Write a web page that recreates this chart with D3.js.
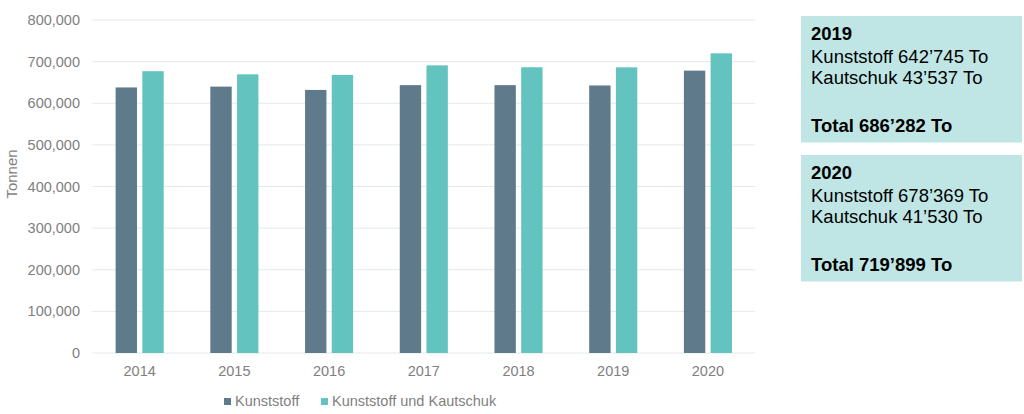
<!DOCTYPE html>
<html>
<head>
    <meta charset="utf-8" />
    <title>Kunststoff und Kautschuk</title>
    <style>
        body { margin: 0; background: #fff; }
        svg text { font-family: "Liberation Sans", Arial, sans-serif; }
    </style>
</head>
<body>
    <svg id="chart" width="1024" height="414"></svg>
    <script src="https://cdn.jsdelivr.net/npm/d3@7/dist/d3.min.js"></script>
    <script>
        // data
        var years = ["2014", "2015", "2016", "2017", "2018", "2019", "2020"];
        var series = ["Kunststoff", "Kunststoff und Kautschuk"];
        var kunststoff = [638000, 640000, 632000, 643500, 643500, 642745, 678369];
        var kunststoffKautschuk = [677000, 669500, 668000, 691000, 686500, 686282, 719899];
        var yTicks = [0, 100000, 200000, 300000, 400000, 500000, 600000, 700000, 800000];
        var colors = ["#5f7b8b", "#63c3be"];

        var infoBoxes = [
            { year: "2019", lines: ["Kunststoff 642\u2019745 To", "Kautschuk 43\u2019537 To"], total: "Total 686\u2019282 To" },
            { year: "2020", lines: ["Kunststoff 678\u2019369 To", "Kautschuk 41\u2019530 To"], total: "Total 719\u2019899 To" }
        ];

        var svg = d3.select("#chart");

        // plot area (note: "top" is reserved on window, so use other names)
        var plotLeft = 92.3, plotRight = 755.3, plotTop = 20, plotBottom = 353;

        var x0 = d3.scaleBand().domain(years).range([plotLeft, plotRight]).paddingInner(0);
        var x1 = d3.scaleBand().domain(series).range([0, x0.bandwidth()])
            .paddingInner(0.2).paddingOuter(0.873);
        var y = d3.scaleLinear().domain([0, 800000]).range([plotBottom, plotTop]);

        // gridlines
        svg.append("g")
            .selectAll("line")
            .data(yTicks)
            .enter()
            .append("line")
            .attr("x1", plotLeft)
            .attr("x2", plotRight)
            .attr("y1", function(d) { return y(d); })
            .attr("y2", function(d) { return y(d); })
            .attr("stroke", "#e4e9e9")
            .attr("stroke-width", 1);

        // y axis labels
        var fmt = d3.format(",");
        svg.append("g")
            .selectAll("text")
            .data(yTicks)
            .enter()
            .append("text")
            .attr("x", 80)
            .attr("y", function(d) { return y(d); })
            .attr("dy", "0.35em")
            .attr("text-anchor", "end")
            .attr("font-size", "14.5px")
            .attr("fill", "#7f7f7f")
            .text(function(d) { return fmt(d); });

        svg.append("text")
            .attr("transform", "translate(17,174) rotate(-90)")
            .attr("text-anchor", "middle")
            .attr("font-size", "15px")
            .attr("fill", "#7f7f7f")
            .text("Tonnen");

        // bars
        var rows = years.map(function(yr, i) {
            return { year: yr, values: [kunststoff[i], kunststoffKautschuk[i]] };
        });

        var groups = svg.append("g")
            .selectAll("g")
            .data(rows)
            .enter()
            .append("g")
            .attr("transform", function(d) { return "translate(" + x0(d.year) + ",0)"; });

        groups.selectAll("rect")
            .data(function(d) {
                return d.values.map(function(v, j) { return { key: series[j], value: v, idx: j }; });
            })
            .enter()
            .append("rect")
            .attr("x", function(d) { return x1(d.key); })
            .attr("y", function(d) { return y(d.value); })
            .attr("width", x1.bandwidth())
            .attr("height", function(d) { return y(0) - y(d.value); })
            .attr("fill", function(d) { return colors[d.idx]; });

        // x labels
        svg.append("g")
            .selectAll("text")
            .data(years)
            .enter()
            .append("text")
            .attr("x", function(d) { return x0(d) + x0.bandwidth() / 2; })
            .attr("y", 376)
            .attr("text-anchor", "middle")
            .attr("font-size", "14.5px")
            .attr("fill", "#7f7f7f")
            .text(function(d) { return d; });

        // legend
        var legendX = [224, 321];
        var legend = svg.append("g")
            .selectAll("g")
            .data(series)
            .enter()
            .append("g")
            .attr("transform", function(d, i) { return "translate(" + legendX[i] + ",398)"; });
        legend.append("rect")
            .attr("width", 7)
            .attr("height", 7)
            .attr("fill", function(d, i) { return colors[i]; });
        legend.append("text")
            .attr("x", 11)
            .attr("y", 7.5)
            .attr("font-size", "14.5px")
            .attr("fill", "#7f7f7f")
            .text(function(d) { return d; });

        // info boxes
        var boxTop = [16, 155];
        var box = svg.append("g")
            .selectAll("g")
            .data(infoBoxes)
            .enter()
            .append("g")
            .attr("transform", function(d, i) { return "translate(801," + boxTop[i] + ")"; });
        box.append("rect")
            .attr("width", 221)
            .attr("height", 126.5)
            .attr("fill", "#bfe6e5");
        box.append("text")
            .attr("x", 10)
            .attr("y", 24)
            .attr("font-size", "18.5px")
            .attr("font-weight", "bold")
            .attr("fill", "#000")
            .text(function(d) { return d.year; });
        box.each(function(d) {
            var g = d3.select(this);
            d.lines.forEach(function(l, k) {
                g.append("text")
                    .attr("x", 10)
                    .attr("y", 46.5 + k * 21)
                    .attr("font-size", "18.5px")
                    .attr("fill", "#000")
                    .text(l);
            });
        });
        box.append("text")
            .attr("x", 10)
            .attr("y", 116)
            .attr("font-size", "18.5px")
            .attr("font-weight", "bold")
            .attr("fill", "#000")
            .text(function(d) { return d.total; });
    </script>
</body>
</html>
